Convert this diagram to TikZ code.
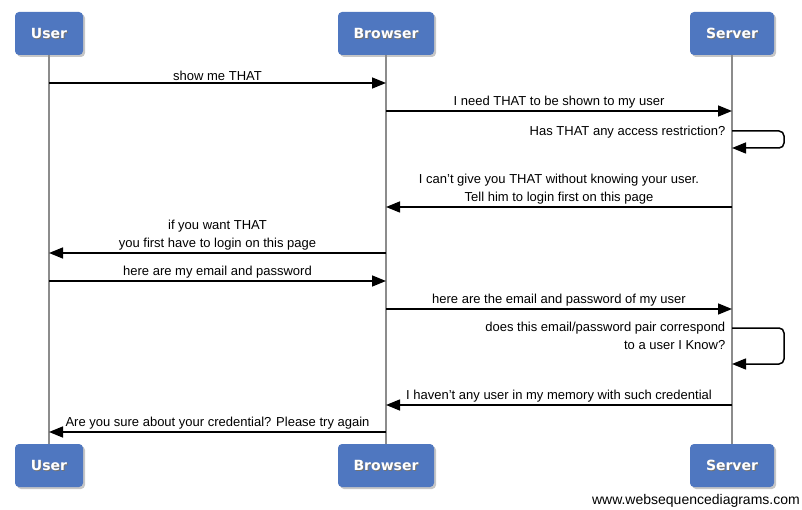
\documentclass[tikz,border=0pt]{standalone}
\usepackage{fontspec}
\setmainfont{Liberation Sans}
\newfontfamily\boxfont{DejaVu Sans}
\usetikzlibrary{arrows.meta, shadows}

\definecolor{boxblue}{RGB}{79,119,192}
\definecolor{lifegray}{RGB}{140,140,140}
\newcommand\shadowtext[1]{\makebox[0pt][l]{\hspace{1pt}\smash{\raisebox{-1pt}{\textcolor{black!55}{#1}}}}#1}

\begin{document}
\begin{tikzpicture}[x=1pt, y=-1pt, font=\fontsize{13}{18}\selectfont,
	actor/.style={rounded corners=4pt, fill=boxblue, minimum height=43pt, text=white,
		font=\boxfont\bfseries\fontsize{14}{16}\selectfont,
		drop shadow={shadow xshift=2pt, shadow yshift=-2pt, opacity=0.45}},
	life/.style={lifegray, line width=1.5pt},
	msg/.style={line width=1.5pt, -{Triangle[length=14pt, width=11pt]}},
	lbl/.style={above, inner sep=2pt, align=center},
	selflbl/.style={anchor=east, inner sep=0pt, align=right}]

	\useasboundingbox (0,0) rectangle (802,510);

	% participants
	\node[actor, minimum width=68pt] (userT) at (49,33.5) {\shadowtext{User}};
	\node[actor, minimum width=96pt] (browserT) at (386,33.5) {\shadowtext{Browser}};
	\node[actor, minimum width=84pt] (serverT) at (732,33.5) {\shadowtext{Server}};
	\node[actor, minimum width=68pt] (userB) at (49,465.5) {\shadowtext{User}};
	\node[actor, minimum width=96pt] (browserB) at (386,465.5) {\shadowtext{Browser}};
	\node[actor, minimum width=84pt] (serverB) at (732,465.5) {\shadowtext{Server}};

	% lifelines
	\draw[life] (userT) -- (userB);
	\draw[life] (browserT) -- (browserB);
	\draw[life] (serverT) -- (serverB);

	% messages
	\draw[msg] (userT |- 0,83) -- (browserT |- 0,83) node[lbl, midway] {show me THAT};
	\draw[msg] (browserT |- 0,111) -- (serverT |- 0,111) node[lbl, midway] {I need THAT to be shown to my user};
	\draw[msg, rounded corners=5pt] (serverT |- 0,131) node[selflbl, xshift=-6pt, yshift=-1pt] {Has THAT any access restriction?}
		-- ++(52,0) -- ++(0,17) -- (serverT |- 0,148);
	\draw[msg] (serverT |- 0,207) -- (browserT |- 0,207) node[lbl, midway] {I can't give you THAT without knowing your user.\\Tell him to login first on this page};
	\draw[msg] (browserT |- 0,253) -- (userT |- 0,253) node[lbl, midway] {if you want THAT\\you first have to login on this page};
	\draw[msg] (userT |- 0,281) -- (browserT |- 0,281) node[lbl, midway] {here are my email and password};
	\draw[msg] (browserT |- 0,309) -- (serverT |- 0,309) node[lbl, midway] {here are the email and password of my user};
	\draw[msg, rounded corners=5pt] (serverT |- 0,328) node[selflbl, anchor=north east, xshift=-6pt, yshift=7pt] {does this email/password pair correspond\\to a user I Know?}
		-- ++(52,0) -- ++(0,36) -- (serverT |- 0,364);
	\draw[msg] (serverT |- 0,405) -- (browserT |- 0,405) node[lbl, midway] {I haven't any user in my memory with such credential};
	\draw[msg] (browserT |- 0,432) -- (userT |- 0,432) node[lbl, midway] {Are you sure about your credential? Please try again};

	\node[anchor=east, inner sep=0pt, font=\fontsize{14}{16}\selectfont] (site) at (800,501) {www.websequencediagrams.com};
\end{tikzpicture}
\end{document}
